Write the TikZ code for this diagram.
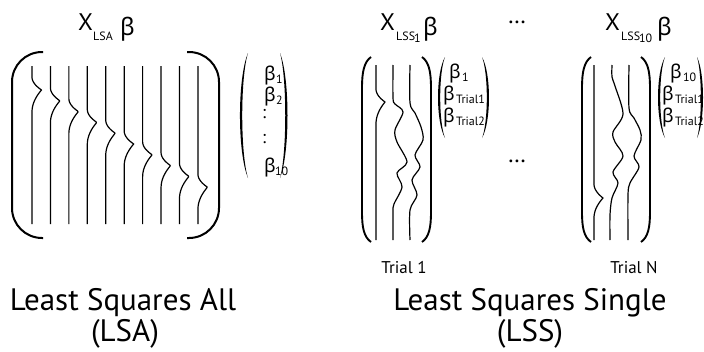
\documentclass[tikz,border=0pt]{standalone}
\usepackage{fontspec}
\setmainfont{PT Sans}
\newfontfamily\grk{Noto Sans}

% haemodynamic-like bump: parabolic rise over #2, parabolic fall over #3
\pgfmathdeclarefunction{hrf}{3}{%
  \pgfmathparse{(#1>0)*(#1<=#2)*(#1/#2)*(#1/#2)+(#1>#2)*(#1<#2+#3)*(1-(#1-#2)/#3)*(1-(#1-#2)/#3)}}

% filled parenthesis: tips x, top y, bottom y, outer control x, inner control x
\newcommand\vecparen[5]{%
  \fill (#1,#2) .. controls (#4,{#2+0.2*(#3-#2)}) and (#4,{#3-0.2*(#3-#2)}) .. (#1,#3)
        .. controls (#5,{#3-0.2*(#3-#2)}) and (#5,{#2+0.2*(#3-#2)}) .. cycle;}

\begin{document}
\begin{tikzpicture}[x=1pt,y=-1pt,
  trace/.style={line width=1.2pt, line join=round},
  bigbracket/.style={line width=2pt, rounded corners=30pt},
  tallparen/.style={line width=1.9pt},
  txt/.style={inner sep=0pt, anchor=base west},
  ttl/.style={txt, font=\fontsize{24}{28}\selectfont},
  ttlsub/.style={txt, font=\fontsize{12}{14}\selectfont},
  ttlbeta/.style={txt, font=\grk\fontsize{24}{28}\selectfont},
  vbeta/.style={txt, font=\grk\fontsize{19}{22}\selectfont},
  vsub/.style={txt, font=\fontsize{12}{14}\selectfont},
  vdots/.style={inner sep=0pt, font=\fontsize{18}{22}\selectfont},
  caption/.style={inner sep=0pt, anchor=base, font=\fontsize{31}{36}\selectfont},
  trial/.style={inner sep=0pt, anchor=base, font=\fontsize{17}{20}\selectfont},
  ellip/.style={inner sep=0pt, font=\fontsize{24}{28}\selectfont}]
\useasboundingbox (0,0) rectangle (704,351);

% ---------------- Least Squares All ----------------
\node[ttl] (xlsa) at (78,30) {X};
\node[ttlsub] (xlsasub) at (93,40) {LSA};
\node[ttlbeta] (xlsabeta) at (120,35) {β};

\draw[bigbracket] (43,52) -- (12,52) -- (12,238) -- (43,238);
\draw[bigbracket] (187,52) -- (219,52) -- (219,238) -- (187,238);

\foreach \i in {0,...,9}{
  \pgfmathsetmacro\xz{32+18.44*\i}
  \pgfmathsetmacro\on{77+10.8*\i}
  \draw[trace] plot[variable=\t, domain=66:224, samples=159]
    ({\xz+9.5*hrf(\t-\on,13,22)}, \t);
}

\vecparen{248}{53}{178}{237.3}{240.3}
\vecparen{280}{53}{178}{290.0}{287.0}
\node[vbeta] (la1) at (264,80) {β};
\node[vsub] (la1s) at (276,83) {1};
\node[vbeta] (la2) at (264,101) {β};
\node[vsub] (la2s) at (276,104) {2};
\node[vdots] (lad1) at (264,114) {:};
\node[vdots] (lad2) at (264,139) {:};
\node[vbeta] (la10) at (264,172) {β};
\node[vsub] (la10s) at (275,175) {10};

\node[caption] (lsa1) at (123,310) {Least Squares All};
\node[caption] (lsa2) at (125,341) {(LSA)};

% ---------------- Least Squares Single, trial 1 ----------------
\node[ttl] (xs1) at (380,30) {X};
\node[ttlsub] (xs1sub) at (396,40) {LSS};
\node[ttlsub] (xs1subi) at (414,42) {1};
\node[ttlbeta] (xs1beta) at (423,35) {β};

\draw[tallparen] (371,57) .. controls (364,62) and (362,72) .. (362,88) -- (362,212)
  .. controls (362,228) and (364,237) .. (371,242);
\draw[tallparen] (422,57) .. controls (429,62) and (431,72) .. (431,88) -- (431,212)
  .. controls (431,228) and (429,237) .. (422,242);

\draw[trace] plot[variable=\t, domain=65:240, samples=176]
  ({376+9*hrf(\t-89,13,22)}, \t);
\draw[trace] plot[smooth, tension=0.5] coordinates {(393,65) (393,98) (395,104) (403,112)
  (395,130) (397,142) (407,162) (397,173) (402,187) (394,204) (393,212) (393,240)};
\draw[trace] plot[smooth, tension=0.5] coordinates {(410,65) (410,103) (415,113) (421,127)
  (423,140) (415,155) (420,167) (412,180) (417,195) (410,210) (410,240)};

\vecparen{445}{57}{138}{435.7}{438.6}
\vecparen{482}{57}{138}{491.3}{488.4}
\node[vbeta] (s1b1) at (449,78) {β};
\node[vsub] (s1b1s) at (462,81) {1};
\node[vbeta] (s1b2) at (443,100) {β};
\node[vsub] (s1b2s) at (456,103) {Trial1};
\node[vbeta] (s1b3) at (443,122) {β};
\node[vsub] (s1b3s) at (456,125) {Trial2};

\node[trial] (t1) at (404,273) {Trial 1};

% ---------------- ellipses between trials ----------------
\node[ellip] (dotstop) at (517,22) {…};
\node[ellip] (dotsmid) at (517,161) {…};

% ---------------- Least Squares Single, trial N ----------------
\node[ttl] (xsn) at (605,30) {X};
\node[ttlsub] (xsnsub) at (621,40) {LSS};
\node[ttlsub] (xsnsubi) at (639,42) {10};
\node[ttlbeta] (xsnbeta) at (657,35) {β};

\draw[tallparen] (591,57) .. controls (584,62) and (582,72) .. (582,88) -- (582,212)
  .. controls (582,228) and (584,237) .. (591,242);
\draw[tallparen] (641,57) .. controls (648,62) and (650,72) .. (650,88) -- (650,212)
  .. controls (650,228) and (648,237) .. (641,242);

\draw[trace] plot[variable=\t, domain=65:240, samples=176]
  ({594+9*hrf(\t-184,14,20)}, \t);
\draw[trace] plot[smooth, tension=0.5] coordinates {(612,65) (612,77) (615,86) (623,114)
  (613,132) (615,142) (623,156) (613,172) (618,183) (612,198) (610,215) (610,240)};
\draw[trace] plot[smooth, tension=0.5] coordinates {(629,65) (629,108) (634,118) (640,130)
  (641,140) (634,156) (639,167) (630,183) (628,195) (628,240)};

\vecparen{665}{57}{138}{655.7}{658.6}
\vecparen{697}{57}{138}{705.0}{702.1}
\node[vbeta] (snb1) at (670,78) {β};
\node[vsub] (snb1s) at (683,81) {10};
\node[vbeta] (snb2) at (662,100) {β};
\node[vsub] (snb2s) at (675,103) {Trial1};
\node[vbeta] (snb3) at (662,122) {β};
\node[vsub] (snb3s) at (675,125) {Trial2};

\node[trial] (tn) at (634,273) {Trial N};

\node[caption] (lss1) at (530,310) {Least Squares Single};
\node[caption] (lss2) at (530,341) {(LSS)};
\end{tikzpicture}
\end{document}
